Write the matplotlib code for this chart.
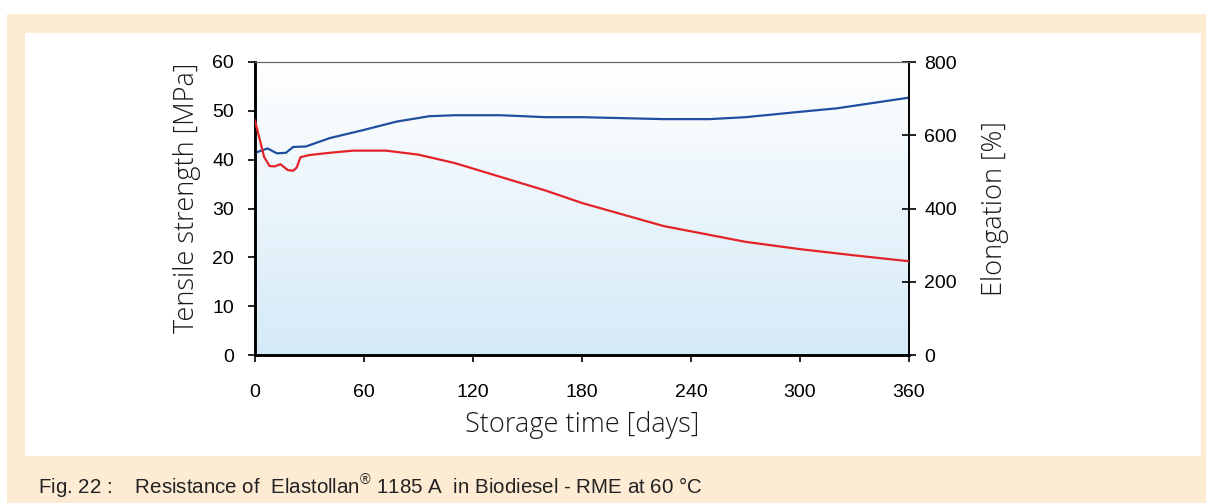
import numpy as np
import matplotlib.pyplot as plt
from matplotlib.patches import Rectangle
from matplotlib.colors import LinearSegmentedColormap

plt.rcParams['font.family'] = ['Liberation Sans', 'DejaVu Sans']
plt.rcParams['mathtext.fontset'] = 'custom'
plt.rcParams['mathtext.rm'] = 'Liberation Sans'

# Tensile strength [MPa] vs storage time [days]
ts_days = [0, 7, 12, 17, 21, 28, 41, 60, 78, 96, 110, 135, 160, 180, 225, 250, 270, 300, 320, 360]
ts_mpa = [41.4, 42.3, 41.3, 41.4, 42.6, 42.7, 44.4, 46.1, 47.8, 48.9, 49.1, 49.1, 48.7, 48.7, 48.3, 48.3, 48.7, 49.8, 50.5, 52.7]

# Elongation at break [%] vs storage time [days]
el_days = [0, 2, 5, 8, 11, 14, 18, 21, 23, 25, 30, 41, 54, 72, 90, 110, 130, 160, 180, 225, 270, 300, 330, 360]
el_pct = [640, 600, 541, 516, 515, 521, 505, 503, 512, 540, 546, 552, 558, 558, 547, 524, 494, 449, 415, 352, 309, 289, 272, 256]

x_ticks = [0, 60, 120, 180, 240, 300, 360]
left_ticks = [0, 10, 20, 30, 40, 50, 60]
right_ticks = [0, 200, 400, 600, 800]

BEIGE = '#FDEBD3'
BLUE = '#1F4F9E'
RED = '#E42328'
LABEL_FONT = dict(fontsize=19.5, family=['Open Sans', 'Liberation Sans'], fontweight='light', color='#1a1a1a')

fig = plt.figure(figsize=(12.06, 5.03), dpi=100)
W, H = 1206, 503

# framed background: beige border with white panel
fig.patches.append(Rectangle((7 / W, 0), 1 - 7 / W, 1 - 14 / H, transform=fig.transFigure,
                             facecolor=BEIGE, edgecolor='none', zorder=-10))
fig.patches.append(Rectangle((25 / W, 1 - 456 / H), (1201 - 25) / W, (456 - 33) / H,
                             transform=fig.transFigure, facecolor='white', edgecolor='none', zorder=-9))

ax = fig.add_axes([255 / W, 1 - 355 / H, (909 - 255) / W, (355 - 62) / H])
ax.set_xlim(0, 360)
ax.set_ylim(0, 60)

# vertical white-to-light-blue fill
grad = np.linspace(0, 1, 256).reshape(-1, 1)
cmap = LinearSegmentedColormap.from_list('bg', ['#D5EAF7', '#FFFFFF'])
ax.imshow(grad, extent=[0, 360, 0, 60], origin='lower', aspect='auto', cmap=cmap, zorder=0)

ax.plot(ts_days, ts_mpa, color=BLUE, lw=1.6, zorder=3)

ax2 = ax.twinx()
ax2.set_ylim(0, 800)
ax2.plot(el_days, el_pct, color=RED, lw=1.6, zorder=3)

ax.set_xticks(x_ticks)
ax.set_yticks(left_ticks)
ax2.set_yticks(right_ticks)

for a in (ax, ax2):
    a.spines['top'].set_color('#666666')
    a.spines['top'].set_linewidth(0.8)
    a.spines['bottom'].set_linewidth(1.8)
    a.spines['left'].set_linewidth(1.8)
    a.spines['right'].set_linewidth(1.2)

ax.tick_params(axis='x', direction='out', length=5, width=1.2, labelsize=14, pad=16)
ax.tick_params(axis='y', direction='out', length=5, width=1.2, labelsize=14, pad=10)
ax2.tick_params(axis='y', direction='inout', length=10, width=1.2, labelsize=14, pad=6)

ax.set_xlabel('Storage time [days]', labelpad=7, **LABEL_FONT)
ax.set_ylabel('Tensile strength [MPa]', labelpad=8, **LABEL_FONT)
ax.yaxis.label.set_y(0.535)
ax2.set_ylabel('Elongation [%]', labelpad=17, **LABEL_FONT)

fig.text(38 / W, 1 - 486 / H,
         'Fig. 22 :    Resistance of  Elastollan$^{®}$ 1185 A  in Biodiesel - RME at 60 °C',
         fontsize=14.8, va='center', ha='left', color='#222222')

fig.savefig('out.png', dpi=100)
